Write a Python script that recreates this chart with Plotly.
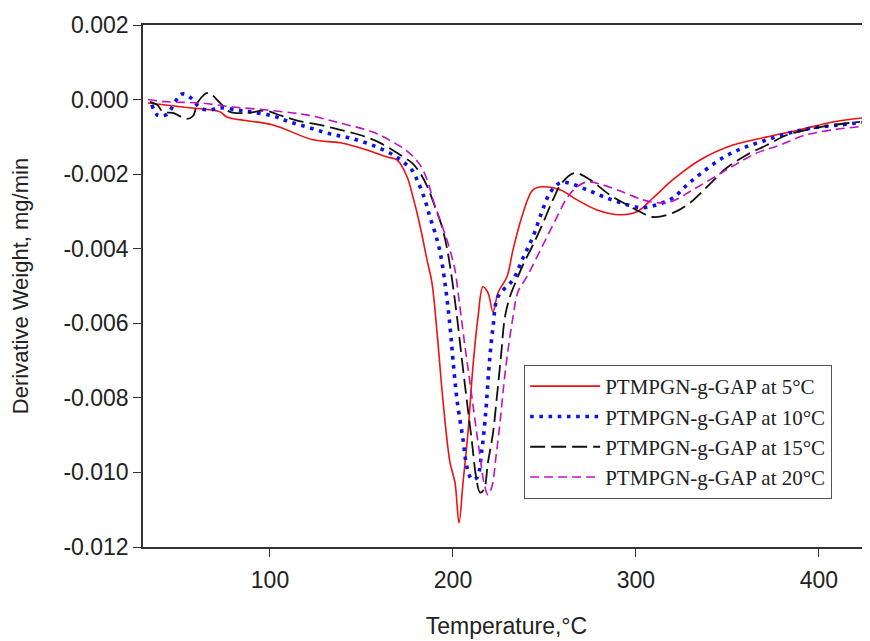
import plotly.graph_objects as go

# ---------------- data ----------------
t_5 = [33.3, 56.3, 72.7, 76.5, 101.6, 123.5, 138.3, 153.0, 164.0, 169.4, 174.9, 178.1,
       180.9, 183.6, 185.8, 188.5, 191.3, 194.5, 198.4, 201.1, 203.3, 205.5, 208.2,
       210.9, 213.7, 216.4, 219.1, 221.9, 224.6, 229.5, 232.8, 238.3, 243.7, 249.2,
       258.5, 267.8, 278.7, 291.3, 300.5, 309.3, 320.2, 335.0, 353.0, 371.6, 389.6,
       407.7, 427.9]
w_5 = [-0.00009, -0.00022, -0.00033, -0.00047, -0.00068, -0.00108, -0.00116, -0.00135,
       -0.00154, -0.00162, -0.00207, -0.00261, -0.00315, -0.00376, -0.0043, -0.00491,
       -0.00625, -0.00805, -0.00974, -0.01027, -0.01135, -0.01027, -0.00893, -0.00717,
       -0.00583, -0.00502, -0.00518, -0.00569, -0.00518, -0.00475, -0.00403, -0.00304,
       -0.00242, -0.00234, -0.00242, -0.00269, -0.00296, -0.00309, -0.00301, -0.00264,
       -0.00215, -0.00162, -0.00122, -0.0010, -0.00081, -0.0006, -0.00047]

t_10 = [35.5, 38.3, 43.2, 51.9, 57.4, 61.7, 67.2, 72.1, 82.0, 89.1, 101.6, 110.9, 121.9,
        132.8, 143.7, 155.7, 167.2, 172.7, 177.6, 180.9, 184.7, 187.4, 190.2, 192.9,
        195.6, 198.4, 200.0, 202.2, 205.5, 207.7, 210.4, 213.1, 215.8, 218.0, 219.7,
        221.9, 224.6, 232.8, 238.3, 243.7, 248.6, 253.0, 258.5, 262.8, 273.2, 284.2,
        295.1, 303.8, 311.5, 320.2, 327.9, 336.6, 347.5, 358.5, 371.6, 384.2, 396.7,
        411.5, 426.2]
w_10 = [-0.00014, -0.00041, -0.00041, 0.00015, 0.00002, -0.00022, -0.00028, -0.00022,
        -0.00028, -0.00033, -0.00044, -0.0006, -0.00076, -0.00092, -0.00103, -0.00122,
        -0.00148, -0.00167, -0.00189, -0.00221, -0.00269, -0.00315, -0.00357, -0.00408,
        -0.00491, -0.00609, -0.00698, -0.00805, -0.00912, -0.00987, -0.01019, -0.01014,
        -0.00939, -0.00832, -0.00717, -0.00609, -0.00529, -0.00483, -0.00424, -0.00368,
        -0.00301, -0.0025, -0.00223, -0.00223, -0.00242, -0.00264, -0.00282, -0.0029,
        -0.00282, -0.00264, -0.00229, -0.00194, -0.00156, -0.0013, -0.00108, -0.00089,
        -0.00076, -0.00068, -0.0006]

t_15 = [34.4, 38.3, 41.5, 47.0, 54.6, 57.9, 60.7, 66.1, 72.7, 78.1, 87.4, 97.3, 106.6,
        115.3, 127.3, 138.3, 149.2, 160.1, 171.0, 177.6, 182.0, 186.3, 190.2, 194.0,
        196.7, 199.5, 202.2, 204.9, 207.7, 210.4, 212.6, 214.8, 216.9, 219.1, 221.9,
        224.0, 226.2, 228.4, 231.1, 235.5, 238.3, 243.7, 249.2, 254.6, 259.6, 266.7,
        274.9, 285.8, 295.1, 302.2, 309.3, 320.2, 329.5, 338.8, 349.7, 360.7, 371.6,
        382.5, 393.4, 407.7, 422.4]
w_15 = [-0.00006, -0.00014, -0.00033, -0.00036, -0.00052, -0.00044, -0.00006, 0.00018,
        -0.00009, -0.00033, -0.00036, -0.0003, -0.00044, -0.00057, -0.00068, -0.00081,
        -0.00095, -0.00116, -0.00148, -0.0017, -0.00197, -0.00237, -0.00288, -0.00341,
        -0.00398, -0.00483, -0.00583, -0.00698, -0.00813, -0.0092, -0.01011, -0.01054,
        -0.01046, -0.00974, -0.00893, -0.00797, -0.0069, -0.00583, -0.00529, -0.00475,
        -0.00443, -0.0039, -0.00331, -0.00269, -0.00223, -0.00197, -0.00215, -0.00256,
        -0.00282, -0.00301, -0.00315, -0.00304, -0.00277, -0.00234, -0.00183, -0.00148,
        -0.00122, -0.00095, -0.00081, -0.00068, -0.0006]

t_20 = [33.3, 43.7, 61.7, 79.8, 98.4, 112.6, 120.2, 138.3, 156.3, 167.2, 175.4, 182.0,
        186.3, 189.1, 192.9, 196.7, 199.5, 201.1, 203.8, 206.6, 209.3, 212.0, 214.8,
        216.9, 219.1, 221.3, 223.5, 225.7, 227.9, 230.1, 232.8, 235.5, 240.4, 245.9,
        251.4, 256.8, 262.3, 267.8, 273.2, 282.0, 292.9, 303.8, 313.1, 320.2, 331.1,
        343.2, 354.1, 366.1, 378.7, 391.3, 407.7, 426.2]
w_20 = [0.0, -0.00006, -0.00009, -0.0002, -0.00028, -0.00036, -0.00041, -0.00063,
        -0.00087, -0.00114, -0.0014, -0.00175, -0.00221, -0.00269, -0.00323, -0.00376,
        -0.00424, -0.00457, -0.00556, -0.00663, -0.00759, -0.00859, -0.00958, -0.01027,
        -0.0106, -0.01038, -0.00958, -0.00867, -0.00759, -0.00671, -0.00583, -0.00516,
        -0.00475, -0.00422, -0.00368, -0.00315, -0.00264, -0.00234, -0.00221, -0.00229,
        -0.00248, -0.00269, -0.00277, -0.00272, -0.00242, -0.00207, -0.00175, -0.00143,
        -0.00122, -0.00097, -0.00081, -0.00071]

series_names = ["PTMPGN-g-GAP at 5°C", "PTMPGN-g-GAP at 10°C",
                "PTMPGN-g-GAP at 15°C", "PTMPGN-g-GAP at 20°C"]

x_tick_vals = [100, 200, 300, 400]
x_tick_text = ["100", "200", "300", "400"]
y_tick_vals = [0.002, 0.0, -0.002, -0.004, -0.006, -0.008, -0.010, -0.012]
y_tick_text = ["0.002", "0.000", "-0.002", "-0.004", "-0.006", "-0.008", "-0.010", "-0.012"]

# ---------------- figure ----------------
styles = [
    dict(color="#f01010", width=1.6, dash="solid"),
    dict(color="#0a10f0", width=3.6, dash="3.6px,5.6px"),
    dict(color="#111111", width=1.8, dash="15px,6px"),
    dict(color="#c010c8", width=1.6, dash="9px,5px"),
]

fig = go.Figure()
for (tx, wy), name, st in zip([(t_5, w_5), (t_10, w_10), (t_15, w_15), (t_20, w_20)],
                              series_names, styles):
    fig.add_trace(go.Scatter(x=tx, y=wy, mode="lines", name=name, line=st,
                             line_shape="spline"))

axis_font = dict(family="Liberation Sans, Arial, sans-serif", size=23, color="#222222")

fig.update_layout(
    width=862, height=633,
    margin=dict(l=135, r=0, t=17, b=94),
    paper_bgcolor="white", plot_bgcolor="white",
    showlegend=True,
    legend=dict(
        x=0.524, y=0.349, xanchor="left", yanchor="top",
        bgcolor="white", bordercolor="#555555", borderwidth=1.2,
        font=dict(family="Liberation Serif, Times New Roman, serif", size=21, color="#222222"),
        itemwidth=70, tracegroupgap=0,
    ),
    xaxis=dict(
        range=[30.6, 427.9], tickvals=x_tick_vals, ticktext=x_tick_text,
        ticks="outside", ticklen=8, tickwidth=1.3, tickcolor="#333333",
        showline=True, linecolor="#333333", linewidth=1.5, mirror=True,
        showgrid=False, zeroline=False, tickfont=axis_font, ticklabelstandoff=4,
        title=dict(text="Temperature,°C", standoff=26,
                   font=dict(family="Liberation Sans, Arial, sans-serif", size=23, color="#222222")),
    ),
    yaxis=dict(
        range=[-0.012, 0.002], tickvals=y_tick_vals, ticktext=y_tick_text,
        ticks="outside", ticklen=8, tickwidth=1.3, tickcolor="#333333",
        showline=True, linecolor="#333333", linewidth=1.5, mirror=False,
        showgrid=False, zeroline=False, tickfont=axis_font, ticklabelstandoff=0,
        title=dict(text="Derivative Weight, mg/min", standoff=30,
                   font=dict(family="Liberation Sans, Arial, sans-serif", size=22, color="#222222")),
    ),
)

fig.write_html("out.html")
